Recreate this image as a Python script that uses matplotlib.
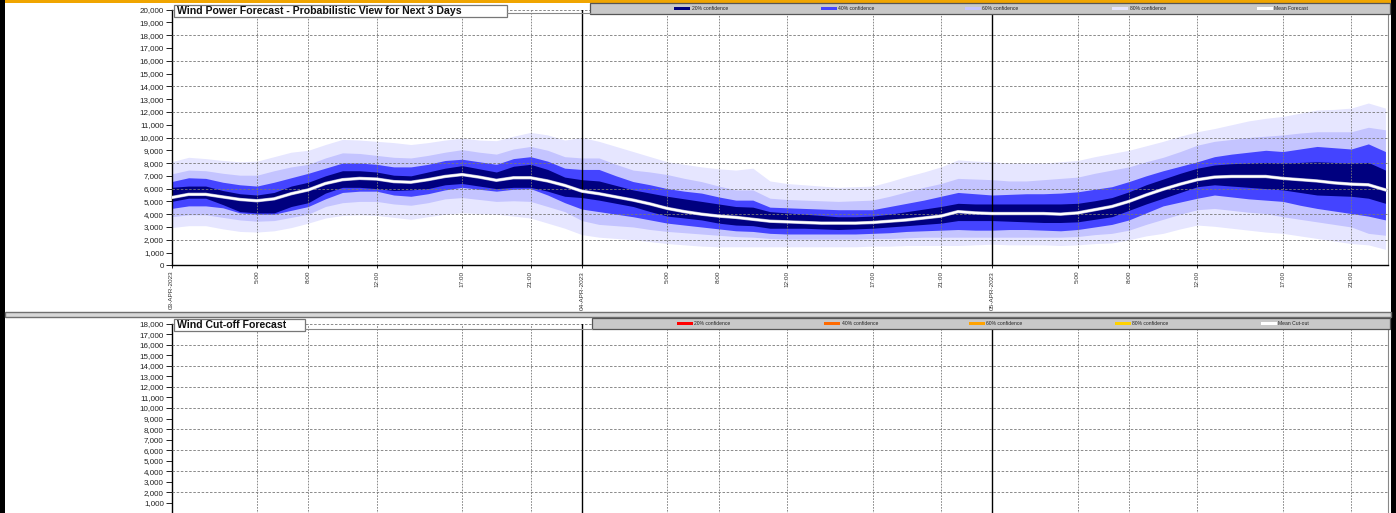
import matplotlib
matplotlib.use("Agg")
import matplotlib.pyplot as plt
from matplotlib.patches import Rectangle
import numpy as np

plt.rcParams["font.family"] = ["Liberation Sans", "DejaVu Sans"]

# hours since 03-APR-2023 00:00, values in thousands of MW
hours = list(range(72))

mean_fc = [5.3, 5.55, 5.55, 5.35, 5.15, 5.05, 5.2, 5.6, 5.9, 6.4, 6.7, 6.8, 6.75, 6.55, 6.5, 6.7, 6.95, 7.1, 6.9, 6.65, 6.85, 6.85, 6.6, 6.25,
           5.8, 5.6, 5.35, 5.1, 4.8, 4.45, 4.2, 4.0, 3.85, 3.75, 3.6, 3.45, 3.4, 3.35, 3.3, 3.3, 3.3, 3.35, 3.45, 3.55, 3.7, 3.85, 4.2, 4.1,
           4.05, 4.05, 4.05, 4.05, 4.0, 4.1, 4.35, 4.6, 5.0, 5.5, 5.95, 6.35, 6.7, 6.9, 6.95, 6.95, 6.95, 6.8, 6.7, 6.6, 6.45, 6.35, 6.3, 5.9]

c20_lo = [5.0, 5.25, 5.25, 4.75, 4.2, 4.1, 4.1, 4.6, 4.9, 5.65, 6.1, 6.1, 6.0, 5.85, 5.9, 6.0, 6.3, 6.4, 6.2, 6.0, 6.1, 6.1, 5.8, 5.4,
          5.3, 5.1, 4.85, 4.6, 4.2, 3.85, 3.7, 3.55, 3.3, 3.15, 3.1, 2.9, 2.9, 2.9, 2.85, 2.8, 2.85, 2.9, 3.0, 3.1, 3.2, 3.3, 3.5, 3.5,
          3.5, 3.45, 3.4, 3.35, 3.35, 3.4, 3.6, 3.8, 4.3, 4.8, 5.25, 5.7, 6.15, 6.3, 6.2, 6.1, 6.0, 5.9, 5.7, 5.5, 5.45, 5.4, 5.25, 4.85]
c20_hi = [6.1, 6.2, 6.2, 5.85, 5.6, 5.5, 5.7, 6.2, 6.5, 7.0, 7.4, 7.4, 7.3, 7.05, 7.0, 7.3, 7.6, 7.8, 7.55, 7.3, 7.75, 7.9, 7.5, 6.9,
          6.7, 6.6, 6.25, 5.9, 5.65, 5.4, 5.2, 5.0, 4.8, 4.6, 4.55, 4.2, 4.1, 4.0, 3.9, 3.8, 3.8, 3.85, 4.0, 4.2, 4.4, 4.6, 4.85, 4.8,
          4.8, 4.8, 4.8, 4.8, 4.8, 4.85, 5.05, 5.3, 5.75, 6.3, 6.75, 7.2, 7.6, 7.85, 7.95, 8.0, 8.05, 8.0, 8.05, 8.1, 8.05, 8.0, 8.05, 7.45]

c40_lo = [4.45, 4.65, 4.65, 4.5, 4.1, 4.0, 4.0, 4.3, 4.6, 5.2, 5.7, 5.8, 5.8, 5.5, 5.4, 5.6, 5.9, 6.1, 5.95, 5.8, 5.95, 6.0, 5.5, 4.9,
          4.4, 4.2, 4.0, 3.8, 3.55, 3.3, 3.15, 3.0, 2.85, 2.7, 2.65, 2.5, 2.45, 2.45, 2.45, 2.45, 2.45, 2.5, 2.55, 2.65, 2.7, 2.75, 2.8, 2.75,
          2.75, 2.8, 2.8, 2.75, 2.7, 2.8, 3.0, 3.2, 3.55, 4.1, 4.65, 4.95, 5.25, 5.5, 5.35, 5.2, 5.1, 5.0, 4.7, 4.45, 4.25, 4.05, 3.85, 3.55]
c40_hi = [6.55, 6.85, 6.8, 6.5, 6.3, 6.2, 6.5, 6.85, 7.2, 7.6, 8.0, 8.0, 7.9, 7.7, 7.7, 7.9, 8.2, 8.3, 8.1, 7.9, 8.35, 8.5, 8.15, 7.6,
          7.5, 7.5, 7.0, 6.55, 6.3, 6.0, 5.8, 5.65, 5.35, 5.1, 5.1, 4.55, 4.5, 4.45, 4.4, 4.35, 4.35, 4.35, 4.6, 4.85, 5.1, 5.4, 5.7, 5.6,
          5.5, 5.55, 5.6, 5.6, 5.65, 5.75, 5.95, 6.15, 6.55, 7.0, 7.4, 7.75, 8.1, 8.5, 8.7, 8.85, 9.0, 8.9, 9.1, 9.3, 9.2, 9.1, 9.5, 8.9]

c60_lo = [3.8, 3.95, 3.95, 3.75, 3.55, 3.45, 3.5, 3.75, 4.0, 4.6, 4.9, 5.0, 5.0, 4.8, 4.7, 4.9, 5.2, 5.3, 5.15, 5.0, 5.05, 5.0, 4.6, 4.2,
          3.5, 3.2, 3.1, 3.0, 2.8, 2.65, 2.55, 2.45, 2.35, 2.25, 2.2, 2.1, 2.05, 2.05, 2.05, 2.05, 2.05, 2.1, 2.1, 2.15, 2.2, 2.2, 2.2, 2.2,
          2.2, 2.2, 2.2, 2.2, 2.2, 2.25, 2.4, 2.5, 2.75, 3.2, 3.6, 4.0, 4.35, 4.45, 4.3, 4.15, 4.05, 3.8, 3.6, 3.4, 3.2, 3.0, 2.5, 2.35]
c60_hi = [7.15, 7.45, 7.4, 7.2, 7.05, 7.05, 7.4, 7.7, 7.9, 8.4, 8.8, 8.75, 8.6, 8.45, 8.4, 8.6, 8.85, 9.05, 8.85, 8.7, 9.1, 9.3, 9.0, 8.5,
          8.4, 8.4, 7.9, 7.45, 7.3, 7.1, 6.8, 6.55, 6.2, 5.9, 5.9, 5.25, 5.15, 5.1, 5.05, 5.0, 5.05, 5.1, 5.4, 5.75, 6.1, 6.4, 6.8, 6.75,
          6.7, 6.6, 6.6, 6.7, 6.8, 6.9, 7.2, 7.45, 7.7, 8.1, 8.45, 8.9, 9.4, 9.7, 9.85, 10.0, 10.1, 10.2, 10.35, 10.45, 10.45, 10.45, 10.8, 10.6]

c80_lo = [2.95, 3.1, 3.1, 2.85, 2.65, 2.6, 2.7, 2.95, 3.3, 3.7, 3.9, 3.95, 3.9, 3.75, 3.6, 3.8, 4.0, 4.1, 4.05, 4.0, 3.85, 3.7, 3.3, 2.9,
          2.4, 2.2, 2.1, 2.0, 1.85, 1.7, 1.6, 1.5, 1.45, 1.45, 1.45, 1.45, 1.45, 1.45, 1.45, 1.45, 1.45, 1.5, 1.5, 1.55, 1.55, 1.55, 1.55, 1.6,
          1.65, 1.6, 1.6, 1.6, 1.55, 1.6, 1.7, 1.75, 2.0, 2.3, 2.5, 2.85, 3.15, 3.05, 2.9, 2.75, 2.6, 2.5, 2.3, 2.1, 1.9, 1.7, 1.6, 1.25]
c80_hi = [8.1, 8.45, 8.35, 8.2, 8.1, 8.15, 8.5, 8.85, 9.0, 9.45, 9.85, 9.8, 9.7, 9.6, 9.45, 9.6, 9.8, 9.95, 9.8, 9.75, 10.1, 10.4, 10.2, 9.8,
          10.0, 9.7, 9.3, 8.9, 8.5, 8.1, 7.9, 7.7, 7.55, 7.45, 7.6, 6.6, 6.4, 6.3, 6.2, 6.1, 6.15, 6.2, 6.55, 6.95, 7.3, 7.7, 8.25, 8.15,
          8.1, 8.0, 8.0, 8.0, 8.1, 8.2, 8.5, 8.75, 9.0, 9.35, 9.7, 10.1, 10.45, 10.7, 11.0, 11.3, 11.5, 11.65, 11.9, 12.15, 12.2, 12.3, 12.7, 12.3]

tick_hours = [0, 5, 8, 12, 17, 21, 24, 29, 32, 36, 41, 45, 48, 53, 56, 60, 65, 69]
tick_labels = ["03-APR-2023", "5:00", "8:00", "12:00", "17:00", "21:00",
               "04-APR-2023", "5:00", "8:00", "12:00", "17:00", "21:00",
               "05-APR-2023", "5:00", "8:00", "12:00", "17:00", "21:00"]
day_hours = [24, 48]

power_labels = ["20% confidence", "40% confidence", "60% confidence", "80% confidence", "Mean Forecast"]
power_colors = ["#00007f", "#4444ff", "#c4c4ff", "#e6e6ff", "#ffffff"]
cutoff_labels = ["20% confidence", "40% confidence", "60% confidence", "80% confidence", "Mean Cut-out"]
cutoff_colors = ["#ff0000", "#ff6a00", "#ffa200", "#ffd200", "#ffffff"]

W, H = 1396, 513


def px(x0, y0, x1, y1):
    return [x0 / W, 1 - y1 / H, (x1 - x0) / W, (y1 - y0) / H]


def style_axes(ax, ymax, grid_step):
    ax.set_xlim(0, 71.15)
    ax.set_ylim(0, ymax)
    ax.set_yticks(np.arange(0, ymax + 1, 1000))
    ax.set_yticklabels([f"{int(v):,}" for v in np.arange(0, ymax + 1, 1000)])
    ax.tick_params(axis="y", labelsize=5.8, length=4, width=0.7, pad=1.5, colors="#222222")
    ax.set_xticks(tick_hours)
    ax.set_xticklabels(tick_labels, rotation=90, fontsize=4.6, color="#333333")
    ax.tick_params(axis="x", length=2.5, width=0.6, pad=1.5)
    for v in np.arange(grid_step, ymax + 1, grid_step):
        ax.axhline(v, color="#777777", lw=0.6, ls=(0, (3, 2)), zorder=3)
    for h in tick_hours:
        if h not in day_hours and h != 0:
            ax.axvline(h, color="#777777", lw=0.6, ls=(0, (2, 1.5)), zorder=3)
    for h in day_hours:
        ax.axvline(h, color="black", lw=1.0, zorder=4)
    ax.spines["top"].set_visible(False)
    ax.spines["right"].set_color("#888888")
    ax.spines["left"].set_linewidth(1.0)
    ax.spines["bottom"].set_linewidth(1.0)


fig = plt.figure(figsize=(W / 100, H / 100), dpi=100)

# top: wind power forecast
ax1 = fig.add_axes(px(171.5, 9.7, 1388, 265.3))
x = np.array(hours)
bands = [(c80_lo, c80_hi), (c60_lo, c60_hi), (c40_lo, c40_hi), (c20_lo, c20_hi)]
band_colors = [power_colors[3], power_colors[2], power_colors[1], power_colors[0]]
for (lo, hi), col in zip(bands, band_colors):
    ax1.fill_between(x, np.array(lo) * 1000, np.array(hi) * 1000, color=col, lw=0, zorder=2)
ax1.plot(x, np.array(mean_fc) * 1000, color="#a8a8d0", lw=2.4, zorder=5)
ax1.plot(x, np.array(mean_fc) * 1000, color="white", lw=1.6, zorder=6)
style_axes(ax1, 20000, 2000)

# bottom: wind cut-off forecast (no data shown, x labels fall below the picture)
ax2 = fig.add_axes(px(171.5, 323.6, 1388, 513.5))
style_axes(ax2, 18000, 2000)
ax2.set_yticks(np.arange(1000, 18001, 1000))
ax2.set_yticklabels([f"{v:,}" for v in range(1000, 18001, 1000)])
ax2.tick_params(axis="x", labelbottom=False, length=0)

# overlay in pixel coordinates for frame, titles and legends
ov = fig.add_axes([0, 0, 1, 1], zorder=10)
ov.set_xlim(0, W)
ov.set_ylim(H, 0)
ov.axis("off")
ov.patch.set_alpha(0)

ov.add_patch(Rectangle((0, 0), W, 3, color="#f0a500", lw=0))
ov.add_patch(Rectangle((0, 0), 4.5, H, color="black", lw=0))
ov.add_patch(Rectangle((1390.5, 0), W - 1390.5, H, color="black", lw=0))

# separator between the two panels
ov.add_patch(Rectangle((4.5, 311.5), 1386, 5, facecolor="#d8d8d8", edgecolor="#707070", lw=1.0))

ov.plot([507, 590], [12.6, 12.6], color="#888888", lw=0.8)
ov.plot([305, 592], [328.5, 328.5], color="#888888", lw=0.8)


def title_box(x0, y0, x1, y1, text):
    ov.add_patch(Rectangle((x0, y0), x1 - x0, y1 - y0, facecolor="white", edgecolor="#777777", lw=0.9))
    ov.text(x0 + 3, (y0 + y1) / 2 + 0.5, text, fontsize=7.6, fontweight="bold",
            color="#111111", va="center", ha="left")


def legend_bar(x0, y0, x1, y1, starts, labels, colors):
    ov.add_patch(Rectangle((x0, y0), x1 - x0, y1 - y0, facecolor="#c8c8c8", edgecolor="#555555", lw=0.9))
    yc = (y0 + y1) / 2
    for xs, lab, col in zip(starts, labels, colors):
        ov.add_patch(Rectangle((xs, yc - 1.3), 16, 2.6, color=col, lw=0))
        ov.text(xs + 17.5, yc + 0.3, lab, fontsize=3.6, color="#222222", va="center", ha="left")


title_box(174, 5, 507, 17, "Wind Power Forecast - Probabilistic View for Next 3 Days")
legend_bar(590, 3, 1390, 13.5, [674, 821, 965, 1112, 1257], power_labels, power_colors)

title_box(174, 319, 305, 331, "Wind Cut-off Forecast")
legend_bar(592, 318, 1390, 328.5, [677, 824, 969, 1115, 1261], cutoff_labels, cutoff_colors)

fig.savefig("out.png", dpi=100)
